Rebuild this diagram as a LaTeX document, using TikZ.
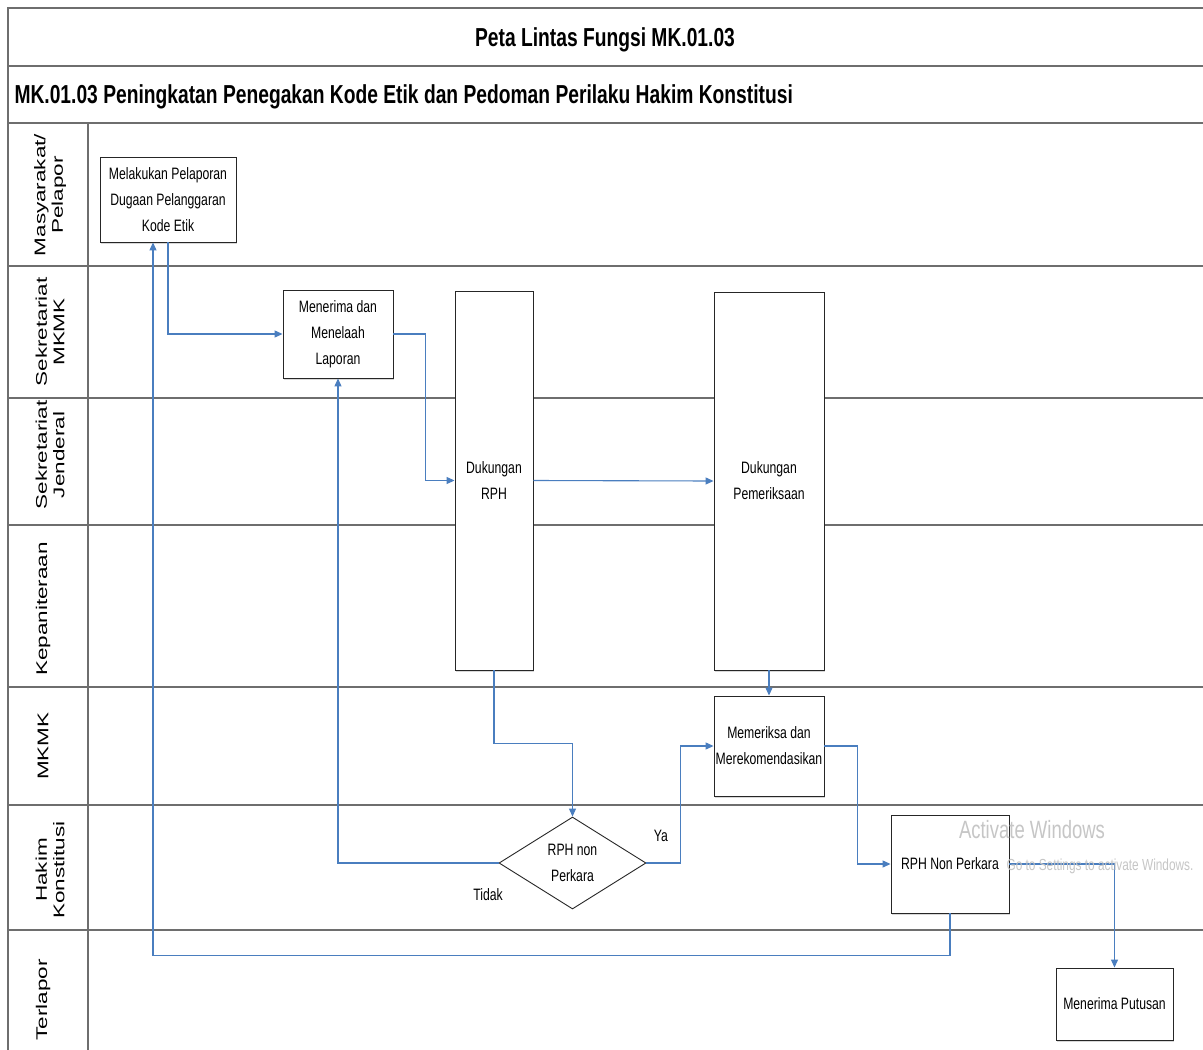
\documentclass[tikz,border=0pt]{standalone}
\usepackage{fontspec}
\setmainfont{Liberation Sans}
\newfontfamily\narrowfont[FakeStretch=0.74]{Liberation Sans}
\newfontfamily\lanefont[FakeStretch=1.45]{Liberation Sans}
\usetikzlibrary{shapes.geometric,arrows.meta,shadows}
\definecolor{lanegray}{HTML}{6E6E6E}
\definecolor{flowblue}{HTML}{4A7EBF}
\begin{document}
\begin{tikzpicture}[x=1pt,y=-1pt,
 lane/.style={draw=lanegray, line width=2pt},
 proc/.style={draw=black!85, line width=0.9pt, fill=white, align=center,
   font=\narrowfont\fontsize{16.5}{26}\selectfont, inner sep=0pt,
   drop shadow={shadow xshift=1pt, shadow yshift=-1.5pt, fill=gray!50, opacity=0.6}},
 decision/.style={draw=black!85, line width=0.9pt, fill=white, diamond, aspect=1.6,
   align=center, inner sep=0pt, font=\narrowfont\fontsize{16.5}{26}\selectfont},
 flow/.style={draw=flowblue, line width=1.1pt, -{Triangle[length=8pt,width=7pt]}},
 lanelabel/.style={rotate=90, align=center, font=\lanefont\fontsize{15.5}{17.5}\selectfont},
 heading/.style={font=\narrowfont\bfseries\fontsize{26}{28}\selectfont},
 edgelabel/.style={font=\narrowfont\fontsize{16.5}{20}\selectfont},
 watermark/.style={text=gray!45, font=\narrowfont},
]
\useasboundingbox[fill=white] (0,0) rectangle (1203,1050);
% frame and lane lines
\draw[lane] (1203,8) -- (8,8) -- (8,1050);
\foreach \yy in {66,123,266,398,525,687,805,930}
  \draw[lane] (8,\yy) -- (1203,\yy);
\draw[lane] (88,123) -- (88,1050);
% headings
\node[heading] (title) at (605,40) {Peta Lintas Fungsi MK.01.03};
\node[heading, anchor=west] (subtitle) at (11,97) {MK.01.03 Peningkatan Penegakan Kode Etik dan Pedoman Perilaku Hakim Konstitusi};
% lane labels
\node[lanelabel] (l1) at (50,195) {Masyarakat/\\Pelapor};
\node[lanelabel] (l2) at (50,332) {Sekretariat\\MKMK};
\node[lanelabel] (l3) at (50,455) {Sekretariat\\Jenderal};
\node[lanelabel] (l4) at (43,609) {Kepaniteraan};
\node[lanelabel] (l5) at (43,746) {MKMK};
\node[lanelabel] (l6) at (50,870) {Hakim\\Konstitusi};
\node[lanelabel] (l7) at (43,1000) {Terlapor};
% process nodes
\node[proc, minimum width=136pt, minimum height=85pt] (lapor) at (168,199.5)
  {Melakukan Pelaporan\\Dugaan Pelanggaran\\Kode Etik};
\node[proc, minimum width=110pt, minimum height=88pt] (terima) at (338,334)
  {Menerima dan\\Menelaah\\Laporan};
\node[proc, minimum width=78pt, minimum height=379pt] (rph) at (494,480.5)
  {Dukungan\\RPH};
\node[proc, minimum width=110pt, minimum height=378pt] (periksa) at (769,481)
  {Dukungan\\Pemeriksaan};
\node[proc, minimum width=110pt, minimum height=100pt] (memeriksa) at (769,746)
  {Memeriksa dan\\Merekomendasikan};
\node[decision, minimum width=147pt, minimum height=92pt] (dec) at (572.5,863)
  {RPH non\\Perkara};
\node[proc, minimum width=118pt, minimum height=98pt] (nonp) at (950,864)
  {RPH Non Perkara};
\node[proc, minimum width=117pt, minimum height=72pt] (putusan) at (1114.5,1004)
  {Menerima Putusan};
% connectors
\draw[flow] (lapor.south) |- (terima.west);
\draw[flow] (terima.east) -- ++(32,0) |- (rph.west);
\draw[flow] (rph.east) -- (periksa.west);
\draw[flow] (periksa.south) -- (memeriksa.north);
\draw[flow] (rph.south) -- ++(0,73) -| (dec.north);
\draw[flow] (dec.east) -- ++(34,0) |- (memeriksa.west);
\draw[flow] (dec.west) -| (terima.south);
\draw[flow] (memeriksa.east) -- ++(33,0) |- (nonp.west);
\draw[flow] (nonp.east) -| (putusan.north);
\draw[flow] (nonp.south) -- ++(0,42) -| ([xshift=-15pt]lapor.south);
% edge labels
\node[edgelabel] (ya) at (661,836) {Ya};
\node[edgelabel] (tidak) at (488,895) {Tidak};
% watermark
\node[watermark, font=\narrowfont\fontsize{25}{28}\selectfont] (wm1) at (1032,830) {Activate Windows};
\node[watermark, font=\narrowfont\fontsize{16}{20}\selectfont, anchor=west] (wm2) at (1003,866) {Go to Settings to activate Windows.};
\end{tikzpicture}
\end{document}
